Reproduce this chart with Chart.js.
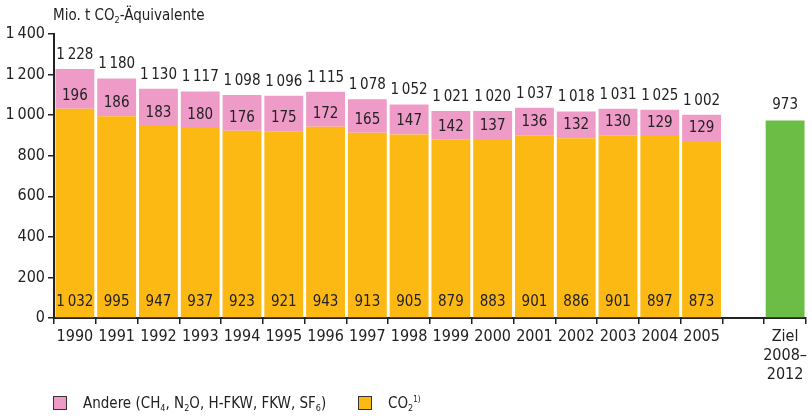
<!DOCTYPE html>
<html>
<head>
<meta charset="utf-8">
<script src="https://cdn.jsdelivr.net/npm/chart.js@4"></script>
<style>
  body { margin: 0; background: #fff; }
  .wrap { position: relative; width: 812px; height: 416px; font-family: "Liberation Sans Narrow", "DejaVu Sans Condensed", "Roboto", sans-serif; color: #222; }
  canvas { position: absolute; left: 0; top: 0; }
  .title { position: absolute; left: 53px; top: 6px; font-size: 15px; }
  sub { font-size: 9px; vertical-align: -3px; line-height: 0; }
  sup { font-size: 8px; vertical-align: 6px; line-height: 0; }
  .leg { position: absolute; top: 394px; font-size: 15px; display: flex; align-items: center; }
  .sw { width: 14px; height: 14px; border: 1px solid #333; margin-right: 16px; box-sizing: border-box; }
</style>
</head>
<body>
<div class="wrap">
  <canvas id="chart" width="812" height="416"></canvas>
  <div class="title">Mio. t CO<sub>2</sub>-Äquivalente</div>
  <div class="leg" style="left:53px"><div class="sw" style="background:#EE9BC8"></div><span>Andere (CH<sub>4</sub>, N<sub>2</sub>O, H-FKW, FKW, SF<sub>6</sub>)</span></div>
  <div class="leg" style="left:358px"><div class="sw" style="background:#FDB913"></div><span>CO<sub>2</sub><sup>1)</sup></span></div>
</div>
<script>
const years = ['1990','1991','1992','1993','1994','1995','1996','1997','1998','1999','2000','2001','2002','2003','2004','2005'];
const labels = [...years, '', ['Ziel', '2008–', '2012']];
const co2 = [1032, 995, 947, 937, 923, 921, 943, 913, 905, 879, 883, 901, 886, 901, 897, 873];
const andere = [196, 186, 183, 180, 176, 175, 172, 165, 147, 142, 137, 136, 132, 130, 129, 129];
const totals = [1228, 1180, 1130, 1117, 1098, 1096, 1115, 1078, 1052, 1021, 1020, 1037, 1018, 1031, 1025, 1002];
const ziel = 973;

const FONT = '"Liberation Sans Narrow", "DejaVu Sans Condensed", "Roboto", sans-serif';
const fmt = v => String(v).replace(/\B(?=(\d{3})+(?!\d))/g, '\u2009');

const pad = arr => [...arr, null, null];
const zielData = [...years.map(() => null), null, ziel];

// labels drawn on and above the bars
const valueLabels = {
  id: 'valueLabels',
  afterDatasetsDraw(chart) {
    const ctx = chart.ctx;
    const y = chart.scales.y;
    const co2Meta = chart.getDatasetMeta(0);
    const zielMeta = chart.getDatasetMeta(2);
    ctx.save();
    ctx.font = '15px ' + FONT;
    ctx.fillStyle = '#222';
    ctx.textAlign = 'center';
    ctx.textBaseline = 'middle';
    years.forEach((yr, i) => {
      const x = co2Meta.data[i].x;
      ctx.fillText(fmt(co2[i]), x, y.getPixelForValue(0) - 16);
      ctx.fillText(fmt(andere[i]), x, y.getPixelForValue(co2[i]) - 13);
      ctx.fillText(fmt(totals[i]), x, y.getPixelForValue(co2[i] + andere[i]) - 14);
    });
    const zi = labels.length - 1;
    ctx.fillText(fmt(ziel), zielMeta.data[zi].x, y.getPixelForValue(ziel) - 16);
    ctx.restore();
  }
};

new Chart(document.getElementById('chart').getContext('2d'), {
  type: 'bar',
  data: {
    labels,
    datasets: [
      { label: 'CO2', data: pad(co2), backgroundColor: '#FDB913' },
      { label: 'Andere', data: pad(andere), backgroundColor: '#EE9BC8' },
      { label: 'Ziel', data: zielData, backgroundColor: '#6CBD45' }
    ]
  },
  options: {
    responsive: false,
    animation: false,
    layout: { padding: { top: 34, right: 6, left: 0, bottom: 0 } },
    datasets: { bar: { barPercentage: 0.93, categoryPercentage: 1 } },
    plugins: { legend: { display: false }, tooltip: { enabled: false } },
    scales: {
      x: {
        stacked: true,
        afterFit: s => { s.height = 98; },
        grid: { offset: true, drawOnChartArea: false, tickLength: 6, color: '#222', lineWidth: 1.5 },
        border: { color: '#222', width: 2 },
        ticks: { color: '#222', font: { family: FONT, size: 16 }, padding: 3, maxRotation: 0, autoSkip: false }
      },
      y: {
        stacked: true,
        min: 0, max: 1400,
        afterFit: s => { s.width = 54; },
        grid: { drawOnChartArea: false, tickLength: 6, color: '#222', lineWidth: 1.5 },
        border: { color: '#222', width: 2 },
        ticks: { stepSize: 200, color: '#222', font: { family: FONT, size: 16 }, padding: 3, callback: v => fmt(v) }
      }
    }
  },
  plugins: [valueLabels]
});
</script>
</body>
</html>
